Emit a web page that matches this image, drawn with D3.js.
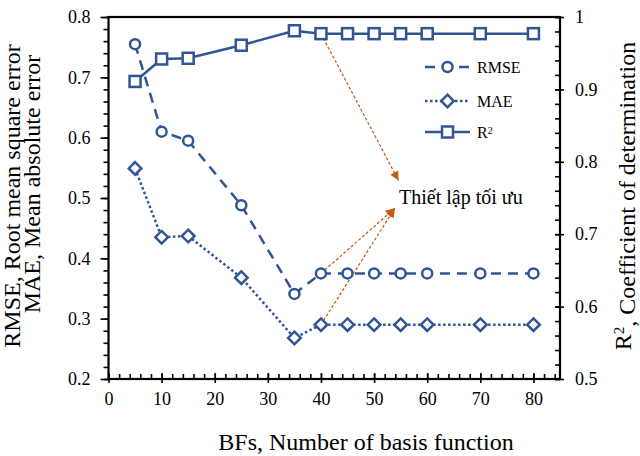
<!doctype html>
<html>
<head>
<meta charset="utf-8">
<style>
  body { margin: 0; background: #fff; }
  text { font-family: "Liberation Serif", "Times New Roman", serif; fill: #000; }
</style>
<script src="https://d3js.org/d3.v7.min.js"></script>
</head>
<body>
<svg width="640" height="456"></svg>
<script>
// data
var bfs  = [5, 10, 15, 25, 35, 40, 45, 50, 55, 60, 70, 80];
var rmse = [0.755, 0.61, 0.595, 0.488, 0.341, 0.375, 0.375, 0.375, 0.375, 0.375, 0.375, 0.375];
var mae  = [0.549, 0.435, 0.437, 0.368, 0.268, 0.29, 0.29, 0.29, 0.29, 0.29, 0.29, 0.29];
var r2   = [0.911, 0.942, 0.943, 0.961, 0.981, 0.977, 0.977, 0.977, 0.977, 0.977, 0.977, 0.977];

var xTicks  = [0, 10, 20, 30, 40, 50, 60, 70, 80];
var leftTicks  = [0.2, 0.3, 0.4, 0.5, 0.6, 0.7, 0.8];
var rightTicks = [0.5, 0.6, 0.7, 0.8, 0.9, 1];

var annoText = "Thiết lập tối ưu";

var blue = "#2f5597", orange = "#c55a11";

var svg = d3.select("svg");
var plotL = 108.5, plotR = 560, plotT = 17, plotB = 379;

var x  = d3.scaleLinear().domain([0, 85]).range([plotL, plotR]);
var yL = d3.scaleLinear().domain([0.2, 0.8]).range([plotB, plotT]);
var yR = d3.scaleLinear().domain([0.5, 1]).range([plotB, plotT]);

// minor tick values
var xMinor = d3.range(0, 85, 2);
var lMinor = d3.range(0.2, 0.8001, 0.02);
var rMinor = d3.range(0.5, 1.0001, 0.02);

function styleAxis(g) {
  g.attr("font-family", null);
  g.select(".domain").remove();
  g.selectAll(".tick line").attr("stroke", "#000").attr("stroke-width", 1.6);
  g.selectAll(".tick text").style("font-family", '"Liberation Serif", "Times New Roman", serif')
    .style("font-size", "18px").attr("fill", "#000");
}

// x axis
svg.append("g").attr("transform", "translate(0," + plotB + ")")
  .call(d3.axisBottom(x).tickValues(xMinor).tickFormat("").tickSize(-5))
  .call(styleAxis);
var gx = svg.append("g").attr("transform", "translate(0," + plotB + ")")
  .call(d3.axisBottom(x).tickValues(xTicks).tickSize(4).tickPadding(9))
  .call(styleAxis);
gx.selectAll(".tick line").attr("y1", -6);

// left axis
svg.append("g").attr("transform", "translate(" + plotL + ",0)")
  .call(d3.axisLeft(yL).tickValues(lMinor).tickFormat("").tickSize(5))
  .call(styleAxis);
svg.append("g").attr("transform", "translate(" + plotL + ",0)")
  .call(d3.axisLeft(yL).tickValues(leftTicks).tickSize(8).tickPadding(10).tickFormat(d3.format("")))
  .call(styleAxis);

// right axis
svg.append("g").attr("transform", "translate(" + plotR + ",0)")
  .call(d3.axisRight(yR).tickValues(rMinor).tickFormat("").tickSize(-5))
  .call(styleAxis);
var gr = svg.append("g").attr("transform", "translate(" + plotR + ",0)")
  .call(d3.axisRight(yR).tickValues(rightTicks).tickSize(4).tickPadding(11).tickFormat(d3.format("")))
  .call(styleAxis);
gr.selectAll(".tick line").attr("x1", -5);

// frame
svg.append("rect").attr("x", plotL).attr("y", plotT)
  .attr("width", plotR - plotL).attr("height", plotB - plotT)
  .attr("fill", "none").attr("stroke", "#000").attr("stroke-width", 2.2);

// series
var series = [
  { name: "RMSE", vals: rmse, y: yL, dash: "10,7", shape: "circle" },
  { name: "MAE",  vals: mae,  y: yL, dash: "2.5,2.5", shape: "diamond" },
  { name: "R²",   vals: r2,   y: yR, dash: null, shape: "square" }
];

function marker(g, shape, cx, cy) {
  if (shape === "circle") {
    g.append("circle").attr("cx", cx).attr("cy", cy).attr("r", 5);
  } else if (shape === "square") {
    g.append("rect").attr("x", cx - 5.5).attr("y", cy - 5.5).attr("width", 11).attr("height", 11);
  } else {
    g.append("path").attr("d", "M" + cx + "," + (cy - 6.3) + "L" + (cx + 6.3) + "," + cy +
      "L" + cx + "," + (cy + 6.3) + "L" + (cx - 6.3) + "," + cy + "Z");
  }
}

series.forEach(function(s) {
  var line = d3.line().x(function(d, i) { return x(bfs[i]); }).y(function(d) { return s.y(d); });
  svg.append("path").datum(s.vals).attr("d", line)
    .attr("fill", "none").attr("stroke", blue).attr("stroke-width", 2.5)
    .attr("stroke-dasharray", s.dash);
});

// annotation arrows (drawn under markers)
var defs = svg.append("defs");
defs.append("marker").attr("id", "ah").attr("viewBox", "0 0 10 10")
  .attr("refX", 10).attr("refY", 5).attr("markerWidth", 11).attr("markerHeight", 9)
  .attr("markerUnits", "userSpaceOnUse").attr("orient", "auto")
  .append("path").attr("d", "M0,0L10,5L0,10Z").attr("fill", orange);

var src = 5; // index of BFs = 40
var arrows = [
  { x0: bfs[src], y0: yR(r2[src]),   x1: 54.6, y1: yL(0.529) },
  { x0: bfs[src], y0: yL(rmse[src]), x1: 53.9, y1: yL(0.483) },
  { x0: bfs[src], y0: yL(mae[src]),  x1: 53.9, y1: yL(0.483) }
];
arrows.forEach(function(a) {
  svg.append("line").attr("x1", x(a.x0)).attr("y1", a.y0)
    .attr("x2", x(a.x1)).attr("y2", a.y1)
    .attr("stroke", orange).attr("stroke-width", 1.2).attr("stroke-dasharray", "3,2")
    .attr("marker-end", "url(#ah)");
});

series.forEach(function(s) {
  var g = svg.append("g").attr("fill", "#fff").attr("stroke", blue).attr("stroke-width", 2.5);
  s.vals.forEach(function(v, i) { marker(g, s.shape, x(bfs[i]), s.y(v)); });
});

svg.append("text").attr("x", x(54.7)).attr("y", yL(0.49))
  .style("font-size", "20px").text(annoText);

// legend
var legY = [67, 101, 132];
series.forEach(function(s, i) {
  var g = svg.append("g");
  g.append("line").attr("x1", 425).attr("x2", 470).attr("y1", legY[i]).attr("y2", legY[i])
    .attr("stroke", blue).attr("stroke-width", 2.5).attr("stroke-dasharray", s.dash);
  var m = g.append("g").attr("fill", "#fff").attr("stroke", blue).attr("stroke-width", 2.5);
  marker(m, s.shape, 447.5, legY[i]);
  var t = g.append("text").attr("x", 477).attr("y", legY[i]).attr("dy", "0.35em").style("font-size", "16px");
  if (s.name === "R²") {
    t.text("R");
    t.append("tspan").attr("dy", "-0.4em").style("font-size", "10px").text("2");
  } else {
    t.text(s.name);
  }
});

// axis titles
svg.append("text").attr("x", 366).attr("y", 450).attr("text-anchor", "middle")
  .style("font-size", "24px").text("BFs, Number of basis function");

svg.append("text").attr("transform", "translate(20,196) rotate(-90)").attr("text-anchor", "middle")
  .style("font-size", "24px").text("RMSE, Root mean square error");
svg.append("text").attr("transform", "translate(40,184) rotate(-90)").attr("text-anchor", "middle")
  .style("font-size", "24px").text("MAE, Mean absolute error");

var rt = svg.append("text").attr("transform", "translate(631,196) rotate(-90)").attr("text-anchor", "middle")
  .style("font-size", "24px");
rt.append("tspan").text("R");
rt.append("tspan").attr("dy", "-0.45em").style("font-size", "15px").text("2");
rt.append("tspan").attr("dy", "0.45em").text(", Coefficient of determination");
</script>
</body>
</html>
